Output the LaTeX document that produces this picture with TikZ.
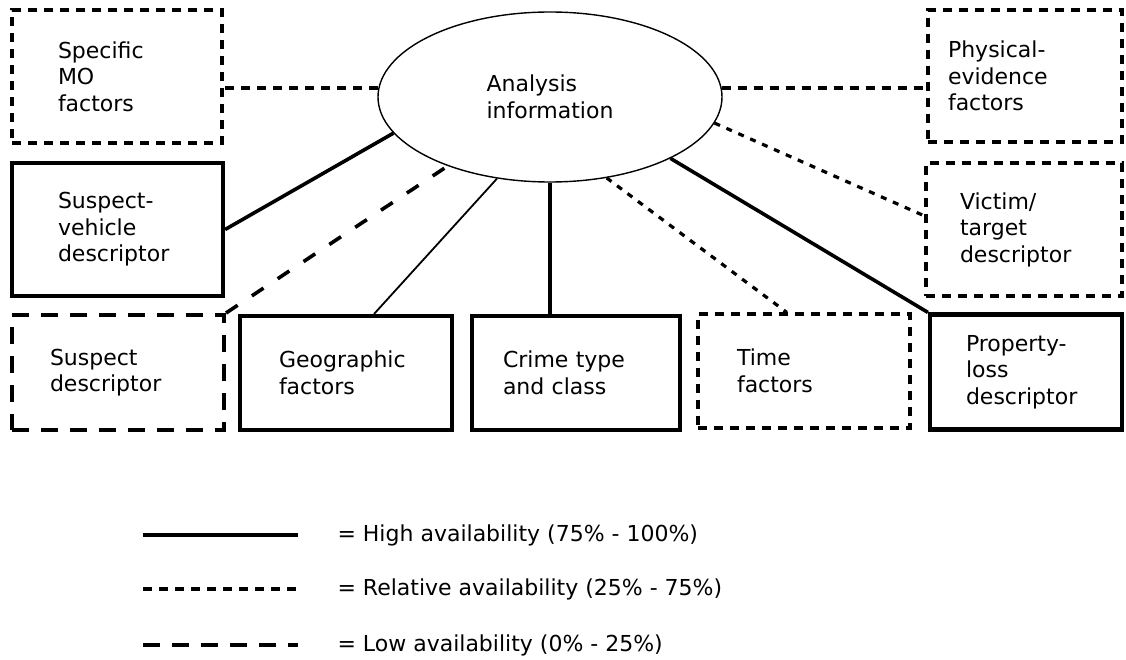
\documentclass[tikz,border=0pt]{standalone}
\usepackage{fontspec}
\setmainfont{DejaVu Sans}
\usetikzlibrary{shapes.geometric, calc}

\begin{document}
\begin{tikzpicture}[
  x=1pt, y=-1pt,
  font=\fontsize{22}{26.5}\selectfont,
  high/.style={draw, line width=4.2pt},
  relative/.style={draw, line width=3.2pt, dash pattern=on 9pt off 7pt},
  low/.style={draw, line width=4pt, dash pattern=on 17pt off 12pt},
  factor/.style={rectangle, align=left, inner ysep=0pt},
  hub/.style={draw, ellipse, line width=1.4pt, minimum width=344pt, minimum height=170pt, align=left}
]
  \useasboundingbox (0,0) rectangle (1126,660);

  % Centro
  \node[hub] (ana) at (550,97) {Analysis\\information};

  % Columna izquierda
  \node[factor, relative, text width=118pt, inner xsep=46pt, minimum height=133pt] (smo) at (117,76.5) {Specific\\MO\\factors};
  \node[factor, high, text width=119pt, inner xsep=46pt, minimum height=133pt] (svd) at (117.5,229.5) {Suspect-\\vehicle\\descriptor};
  \node[factor, low, text width=136pt, inner xsep=38pt, minimum height=115pt] (sud) at (118,372.5) {Suspect\\descriptor};

  % Fila inferior
  \node[factor, high, text width=134pt, inner xsep=39pt, minimum height=114pt] (geo) at (346,373) {Geographic\\factors};
  \node[factor, high, text width=146pt, inner xsep=31pt, minimum height=114pt] (ctc) at (576,373) {Crime type\\and class};
  \node[factor, relative, text width=134pt, inner xsep=39pt, minimum height=114pt] (tf) at (804,371) {Time\\factors};
  \node[factor, high, text width=120pt, inner xsep=36pt, minimum height=115pt] (pld) at (1026,372) {Property-\\loss\\descriptor};

  % Columna derecha
  \node[factor, relative, text width=154pt, inner xsep=20pt, minimum height=132pt] (pef) at (1025,76) {Physical-\\evidence\\factors};
  \node[factor, relative, text width=128pt, inner xsep=34pt, minimum height=133pt] (vtd) at (1024,229.5) {Victim/\\target\\descriptor};

  % Conexiones
  \draw[relative] (ana.177) -- (ana.177 -| smo.east);
  \draw[relative] (ana.3) -- (ana.3 -| pef.west);
  \draw[high, line width=3.6pt] (svd.east) -- (ana.193);
  \draw[low, line width=3.6pt, dash pattern=on 14pt off 17pt] (sud.north east) -- (ana.214);
  \draw[high, line width=1.8pt] ($(geo.north west)!0.63!(geo.north east)$) -- (ana.237);
  \draw[high, line width=3.6pt] (ana.south) -- (ana.south |- ctc.north);
  \draw[relative, dash pattern=on 6pt off 7pt] (ana.305) -- ($(tf.north west)!0.42!(tf.north east)$);
  \draw[high, line width=3.6pt] (ana.333) -- (pld.north west);
  \draw[relative, dash pattern=on 6pt off 7pt] (ana.351) -- ($(vtd.north west)!0.4!(vtd.south west)$);

  % Leyenda
  \coordinate (hi1) at (143,535); \coordinate (hi2) at (298,535);
  \coordinate (re1) at (143,589); \coordinate (re2) at (298,589);
  \coordinate (lo1) at (143,645); \coordinate (lo2) at (298,645);
  \draw[high, line width=4.5pt] (hi1) -- (hi2);
  \draw[relative] (re1) -- (re2);
  \draw[low] (lo1) -- (lo2);
  \node[anchor=west] (hitxt) at (334,535) {= High availability (75\% - 100\%)};
  \node[anchor=west] (retxt) at (334,589) {= Relative availability (25\% - 75\%)};
  \node[anchor=west] (lotxt) at (334,645) {= Low availability (0\% - 25\%)};

\end{tikzpicture}
\end{document}
